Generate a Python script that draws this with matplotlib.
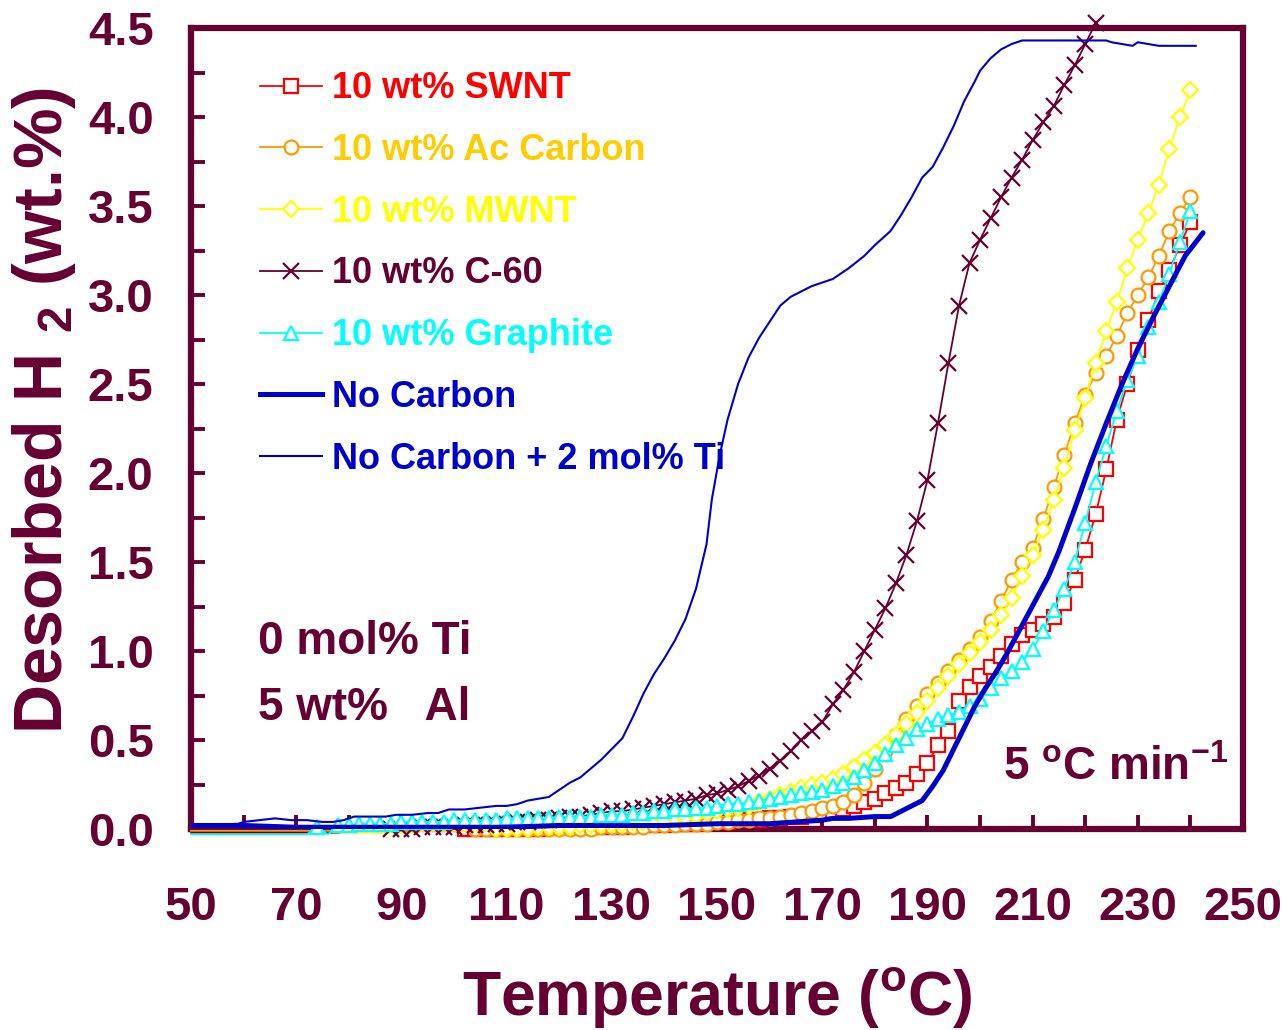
import numpy as np
import matplotlib
matplotlib.use("Agg")
import matplotlib.pyplot as plt
from matplotlib.lines import Line2D

plt.rcParams["font.family"] = ["Liberation Sans", "DejaVu Sans"]
plt.rcParams["font.weight"] = "bold"
plt.rcParams["axes.labelweight"] = "bold"
plt.rcParams["mathtext.fontset"] = "custom"
plt.rcParams["mathtext.rm"] = "Liberation Sans:bold"
plt.rcParams["mathtext.it"] = "Liberation Sans:bold"
plt.rcParams["mathtext.bf"] = "Liberation Sans:bold"
plt.rcParams["mathtext.default"] = "rm"

MAROON = "#660033"

# temperature grid of the TPD runs (deg C), one reading every 2 degrees
temps = np.arange(50, 241, 2)       # 50 .. 240
temps_c60 = np.arange(50, 223, 2)   # 50 .. 222

swnt = [
    -0.01, -0.01, -0.01, -0.01, -0.01, -0.01, -0.01, -0.01, -0.01, -0.01,
    -0.01, -0.01, -0.01, -0.01, -0.01, -0.01, -0.01, -0.01, -0.01, -0.01,
    -0.01, -0.01, -0.01, -0.01, -0.01, -0.01, 0.00, 0.00, 0.00, 0.00,
    0.00, 0.00, 0.00, 0.00, 0.01, 0.01, 0.01, 0.01, 0.01, 0.01,
    0.01, 0.01, 0.02, 0.02, 0.02, 0.02, 0.03, 0.03, 0.03, 0.04,
    0.04, 0.04, 0.05, 0.05, 0.05, 0.06, 0.06, 0.07, 0.07, 0.08,
    0.09, 0.10, 0.11, 0.13, 0.15, 0.17, 0.20, 0.23, 0.26, 0.31,
    0.37, 0.47, 0.55, 0.72, 0.80, 0.86, 0.91, 0.97, 1.04, 1.09,
    1.12, 1.15, 1.19, 1.27, 1.40, 1.57, 1.77, 2.02, 2.30, 2.50,
    2.69, 2.86, 3.02, 3.14, 3.28, 3.41]

ac_carbon = [
    -0.01, -0.01, -0.01, -0.01, -0.01, -0.01, -0.01, -0.01, -0.01, -0.01,
    -0.01, -0.01, -0.01, -0.01, -0.01, -0.01, -0.01, -0.01, -0.01, -0.01,
    -0.01, -0.01, -0.01, -0.01, -0.01, -0.01, -0.01, 0.00, 0.00, 0.00,
    0.00, 0.00, 0.00, 0.00, 0.00, 0.00, 0.00, 0.00, 0.00, 0.01,
    0.01, 0.01, 0.01, 0.01, 0.02, 0.02, 0.02, 0.03, 0.03, 0.03,
    0.04, 0.04, 0.05, 0.05, 0.06, 0.06, 0.07, 0.08, 0.09, 0.10,
    0.12, 0.13, 0.15, 0.19, 0.26, 0.34, 0.44, 0.53, 0.62, 0.69,
    0.76, 0.82, 0.89, 0.95, 1.01, 1.08, 1.17, 1.28, 1.40, 1.50,
    1.58, 1.74, 1.92, 2.10, 2.28, 2.44, 2.56, 2.66, 2.77, 2.90,
    3.00, 3.10, 3.22, 3.36, 3.46, 3.55]

mwnt = [
    -0.02, -0.02, -0.02, -0.02, -0.02, -0.02, -0.02, -0.02, -0.02, -0.02,
    -0.02, -0.02, -0.02, -0.02, -0.02, -0.02, -0.02, -0.02, -0.02, -0.02,
    -0.02, -0.02, -0.01, -0.01, -0.01, -0.01, -0.01, -0.01, -0.01, 0.00,
    0.00, 0.00, 0.00, 0.01, 0.01, 0.01, 0.01, 0.02, 0.02, 0.02,
    0.03, 0.03, 0.04, 0.04, 0.05, 0.05, 0.06, 0.07, 0.08, 0.09,
    0.10, 0.11, 0.12, 0.13, 0.15, 0.17, 0.19, 0.21, 0.23, 0.25,
    0.26, 0.28, 0.31, 0.35, 0.39, 0.43, 0.47, 0.53, 0.59, 0.65,
    0.72, 0.79, 0.86, 0.93, 0.99, 1.05, 1.12, 1.20, 1.30, 1.42,
    1.54, 1.68, 1.85, 2.03, 2.24, 2.42, 2.62, 2.80, 2.96, 3.15,
    3.31, 3.46, 3.62, 3.82, 4.00, 4.15]

c60 = [
    -0.02, -0.02, -0.02, -0.02, -0.02, -0.02, -0.02, -0.02, -0.02, -0.02,
    -0.02, -0.02, -0.02, -0.02, -0.02, -0.01, -0.01, -0.01, -0.01, 0.00,
    0.00, 0.00, 0.01, 0.01, 0.01, 0.01, 0.02, 0.02, 0.02, 0.03,
    0.03, 0.04, 0.04, 0.05, 0.05, 0.06, 0.07, 0.07, 0.08, 0.09,
    0.10, 0.10, 0.11, 0.12, 0.13, 0.14, 0.15, 0.16, 0.17, 0.19,
    0.20, 0.22, 0.24, 0.27, 0.30, 0.34, 0.38, 0.44, 0.50, 0.55,
    0.60, 0.70, 0.78, 0.88, 1.00, 1.12, 1.24, 1.38, 1.54, 1.73,
    1.96, 2.28, 2.62, 2.94, 3.18, 3.31, 3.43, 3.55, 3.66, 3.76,
    3.87, 3.97, 4.06, 4.18, 4.29, 4.41, 4.53]

graphite = [
    -0.03, -0.03, -0.03, -0.03, -0.03, -0.03, -0.03, -0.03, -0.03, -0.03,
    -0.03, -0.03, 0.01, -0.03, 0.02, 0.02, 0.03, 0.03, 0.03, 0.03,
    0.04, 0.04, 0.04, 0.04, 0.04, 0.05, 0.05, 0.05, 0.05, 0.05,
    0.06, 0.06, 0.06, 0.06, 0.06, 0.07, 0.07, 0.07, 0.07, 0.08,
    0.08, 0.08, 0.09, 0.09, 0.10, 0.10, 0.11, 0.11, 0.12, 0.12,
    0.13, 0.14, 0.14, 0.15, 0.16, 0.17, 0.18, 0.19, 0.20, 0.21,
    0.22, 0.24, 0.26, 0.29, 0.33, 0.37, 0.42, 0.47, 0.51, 0.56,
    0.59, 0.62, 0.64, 0.66, 0.69, 0.73, 0.79, 0.85, 0.89, 0.94,
    1.01, 1.11, 1.23, 1.35, 1.50, 1.72, 1.95, 2.15, 2.35, 2.52,
    2.66, 2.82, 2.96, 3.12, 3.30, 3.47]

# plain MgH2/Al runs, logged on their own temperature points
t_nocarbon = [50, 60, 70, 80, 90, 100, 110, 120, 130, 140, 150, 160, 165, 170,
              172, 175, 180, 183, 185, 187, 189, 191, 193, 195, 197, 199, 201,
              203, 205, 207, 209, 211, 213, 215, 218, 221, 224, 227, 230, 233,
              236, 239, 242.4]
nocarbon = [0.02, 0.02, 0.01, 0.01, 0.01, 0.01, 0.01, 0.02, 0.02, 0.02, 0.03,
            0.03, 0.04, 0.05, 0.06, 0.06, 0.07, 0.07, 0.10, 0.13, 0.16, 0.24,
            0.33, 0.45, 0.57, 0.69, 0.79, 0.88, 0.98, 1.09, 1.20, 1.31, 1.42,
            1.56, 1.80, 2.05, 2.28, 2.50, 2.70, 2.88, 3.05, 3.22, 3.35]

t_ti = [50, 56, 59, 60, 63, 66, 69, 72, 75, 77, 79, 81, 84, 87, 89, 92, 95, 97,
        99, 102, 105, 108, 110, 112, 114, 116, 118, 120, 122, 124, 126, 128,
        130, 132, 134, 136, 138, 140, 142, 144, 146, 148, 149, 150.5, 152, 154,
        156, 158, 160, 162, 164, 166, 168, 170, 172, 175, 178, 180, 183, 185,
        187, 189, 191, 193, 195, 197, 199, 200, 202, 204, 206, 208, 212, 216,
        220, 222, 224, 225, 227, 229, 230, 232, 234, 237, 241]
ti = [0.02, 0.025, 0.03, 0.04, 0.05, 0.06, 0.05, 0.05, 0.04, 0.04, 0.05, 0.07,
      0.07, 0.07, 0.08, 0.08, 0.09, 0.09, 0.11, 0.11, 0.12, 0.13, 0.13, 0.14,
      0.16, 0.17, 0.18, 0.22, 0.26, 0.29, 0.34, 0.39, 0.45, 0.51, 0.63, 0.76,
      0.87, 0.96, 1.06, 1.18, 1.35, 1.60, 1.85, 2.10, 2.30, 2.50, 2.65, 2.76,
      2.85, 2.94, 2.99, 3.02, 3.05, 3.07, 3.09, 3.15, 3.22, 3.28, 3.36, 3.45,
      3.55, 3.66, 3.72, 3.83, 3.95, 4.09, 4.20, 4.26, 4.33, 4.38, 4.41, 4.43,
      4.43, 4.43, 4.43, 4.43, 4.43, 4.42, 4.41, 4.40, 4.42, 4.41, 4.40, 4.40,
      4.40]

labels = ["10 wt% SWNT", "10 wt% Ac Carbon", "10 wt% MWNT", "10 wt% C-60",
          "10 wt% Graphite", "No Carbon", "No Carbon + 2 mol% Ti"]
line_colors = ["#FF0000", "#FF9900", "#FFFF00", MAROON, "#00FFFF", "#0000CC", "#0000CC"]
text_colors = ["#FF0000", "#FFCC00", "#FFFF00", MAROON, "#00FFFF", "#0000CC", "#0000CC"]
markers = ["s", "o", "D", "x", "^", None, None]
marker_sizes = [10, 10, 8.5, 11, 10, 0, 0]

fig = plt.figure(figsize=(12.84, 10.30), dpi=100)
ax = fig.add_axes([0.1488, 0.1951, 0.8193, 0.7777])

marker_series = [(temps, swnt), (temps, ac_carbon), (temps, mwnt),
                 (temps_c60, c60), (temps, graphite)]
handles = []
for i, (t, v) in enumerate(marker_series):
    t = np.asarray(t)
    v = np.asarray(v)
    col = line_colors[i]
    ax.plot(t, v, color=col, lw=1.3, clip_on=False, zorder=3 + i * 0.1)
    # readings below zero fall outside the plot area and get no symbol
    keep = v >= 0
    mfc = col if markers[i] == "x" else "white"
    ax.plot(t[keep], v[keep], ls="none", marker=markers[i], ms=marker_sizes[i],
            mfc=mfc, mec=col, mew=1.6, clip_on=False, zorder=3 + i * 0.1)
    handles.append(Line2D([], [], color=col, lw=1.3, marker=markers[i],
                          ms=marker_sizes[i], mfc=mfc, mec=col, mew=1.6))

ax.plot(t_nocarbon, nocarbon, color=line_colors[5], lw=3.6, zorder=3.6,
        solid_capstyle="round")
ax.plot(t_ti, ti, color=line_colors[6], lw=1.5, zorder=3.7)
handles.append(Line2D([], [], color=line_colors[5], lw=3.6))
handles.append(Line2D([], [], color=line_colors[6], lw=1.5))

ax.set_xlim(50, 250)
ax.set_ylim(0, 4.5)

# axes frame and ticks
for s in ax.spines.values():
    s.set_color(MAROON)
    s.set_linewidth(4.5)
    s.set_zorder(2.5)

ax.set_xticks(np.arange(50, 251, 20))
ax.set_xticks(np.arange(60, 241, 20), minor=True)
ax.set_yticks(np.arange(0, 4.51, 0.5))
ax.set_yticks(np.arange(0.25, 4.5, 0.5), minor=True)
ax.set_yticklabels([f"{y:.1f}" for y in np.arange(0, 4.51, 0.5)])
ax.tick_params(which="both", direction="in", length=10, width=2.8, color=MAROON,
               top=False, right=False)
ax.tick_params(axis="x", which="major", pad=41, labelsize=34, labelcolor=MAROON)
ax.tick_params(axis="y", which="major", pad=27, labelsize=34, labelcolor=MAROON)

ax.set_xlabel("Temperature ($^{o}$C)", fontsize=45, color=MAROON,
              fontweight="bold")
ax.xaxis.set_label_coords(0.5, -0.172)
ax.set_ylabel("Desorbed H $_2$ (wt.%)", fontsize=49, color=MAROON,
              fontweight="bold")
ax.yaxis.set_label_coords(-0.107, 0.522)

leg = ax.legend(handles, labels, loc="upper left", bbox_to_anchor=(0.0656, 0.946),
                frameon=False, fontsize=26, numpoints=1, handlelength=1.72,
                handletextpad=0.28, labelspacing=0.74, borderpad=0,
                borderaxespad=0)
for txt, c in zip(leg.get_texts(), text_colors):
    txt.set_color(c)

ax.text(0.0637, 0.2335, "0 mol% Ti", transform=ax.transAxes, fontsize=33,
        color=MAROON, ha="left", va="center")
ax.text(0.0637, 0.151, "5 wt%   Al", transform=ax.transAxes, fontsize=33,
        color=MAROON, ha="left", va="center")
ax.text(0.9857, 0.076, "5 $^{o}$C min$^{-1}$", transform=ax.transAxes,
        fontsize=33, color=MAROON, ha="right", va="center")

fig.savefig("out.png", dpi=100)
